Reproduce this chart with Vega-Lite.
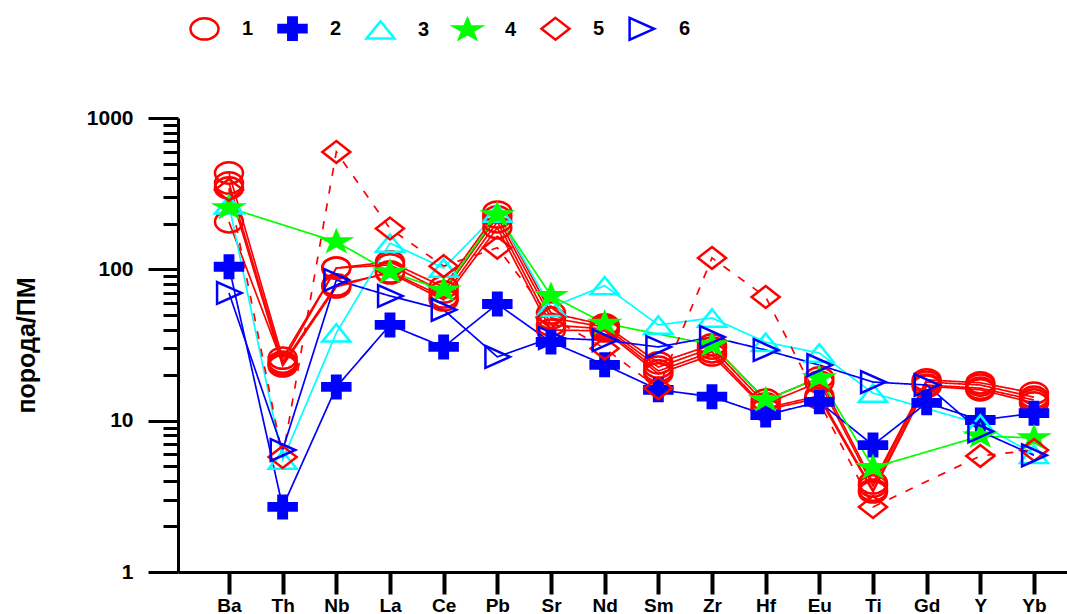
{
"$schema": "https://vega.github.io/schema/vega-lite/v6.json",
"width": 889, "height": 454,
"autosize": {"type": "none"},
"padding": {"left": 178, "top": 118, "right": 0, "bottom": 42},
"background": "white",
"config": {"view": {"stroke": null}, "font": "Liberation Sans"},
"data": {"values": [
{"s":"1a","g":"1","e":"Ba","v":433},{"s":"1a","g":"1","e":"Th","v":25.9},{"s":"1a","g":"1","e":"Nb","v":102},{"s":"1a","g":"1","e":"La","v":112},{"s":"1a","g":"1","e":"Ce","v":76.5},{"s":"1a","g":"1","e":"Pb","v":239},{"s":"1a","g":"1","e":"Sr","v":51.5},{"s":"1a","g":"1","e":"Nd","v":42.9},{"s":"1a","g":"1","e":"Sm","v":24.1},{"s":"1a","g":"1","e":"Zr","v":31.7},{"s":"1a","g":"1","e":"Hf","v":13.7},{"s":"1a","g":"1","e":"Eu","v":19.2},{"s":"1a","g":"1","e":"Ti","v":3.88},{"s":"1a","g":"1","e":"Gd","v":18.6},{"s":"1a","g":"1","e":"Y","v":17.8},{"s":"1a","g":"1","e":"Yb","v":15.2},
{"s":"1b","g":"1","e":"Ba","v":372},{"s":"1b","g":"1","e":"Th","v":24.4},{"s":"1b","g":"1","e":"Nb","v":102},{"s":"1b","g":"1","e":"La","v":107},{"s":"1b","g":"1","e":"Ce","v":70.9},{"s":"1b","g":"1","e":"Pb","v":222},{"s":"1b","g":"1","e":"Sr","v":47.7},{"s":"1b","g":"1","e":"Nd","v":41.6},{"s":"1b","g":"1","e":"Sm","v":22.6},{"s":"1b","g":"1","e":"Zr","v":30.2},{"s":"1b","g":"1","e":"Hf","v":12.9},{"s":"1b","g":"1","e":"Eu","v":18.0},{"s":"1b","g":"1","e":"Ti","v":3.70},{"s":"1b","g":"1","e":"Gd","v":18.0},{"s":"1b","g":"1","e":"Y","v":17.2},{"s":"1b","g":"1","e":"Yb","v":14.3},
{"s":"1c","g":"1","e":"Ba","v":345},{"s":"1c","g":"1","e":"Th","v":23.0},{"s":"1c","g":"1","e":"Nb","v":76.5},{"s":"1c","g":"1","e":"La","v":96.2},{"s":"1c","g":"1","e":"Ce","v":65.7},{"s":"1c","g":"1","e":"Pb","v":206},{"s":"1c","g":"1","e":"Sr","v":42.9},{"s":"1c","g":"1","e":"Nd","v":40.4},{"s":"1c","g":"1","e":"Sm","v":21.3},{"s":"1c","g":"1","e":"Zr","v":28.5},{"s":"1c","g":"1","e":"Hf","v":12.1},{"s":"1c","g":"1","e":"Eu","v":14.6},{"s":"1c","g":"1","e":"Ti","v":3.48},{"s":"1c","g":"1","e":"Gd","v":17.2},{"s":"1c","g":"1","e":"Y","v":16.4},{"s":"1c","g":"1","e":"Yb","v":13.7},
{"s":"1d","g":"1","e":"Ba","v":206},{"s":"1d","g":"1","e":"Th","v":23.7},{"s":"1d","g":"1","e":"Nb","v":78.9},{"s":"1d","g":"1","e":"La","v":94.6},{"s":"1d","g":"1","e":"Ce","v":62.8},{"s":"1d","g":"1","e":"Pb","v":188},{"s":"1d","g":"1","e":"Sr","v":39.7},{"s":"1d","g":"1","e":"Nd","v":39.2},{"s":"1d","g":"1","e":"Sm","v":20.4},{"s":"1d","g":"1","e":"Zr","v":27.2},{"s":"1d","g":"1","e":"Hf","v":11.8},{"s":"1d","g":"1","e":"Eu","v":14.1},{"s":"1d","g":"1","e":"Ti","v":3.38},{"s":"1d","g":"1","e":"Gd","v":16.9},{"s":"1d","g":"1","e":"Y","v":16.0},{"s":"1d","g":"1","e":"Yb","v":13.1},
{"s":"2","g":"2","e":"Ba","v":104},{"s":"2","g":"2","e":"Th","v":2.69},{"s":"2","g":"2","e":"Nb","v":16.7},{"s":"2","g":"2","e":"La","v":42.9},{"s":"2","g":"2","e":"Ce","v":30.7},{"s":"2","g":"2","e":"Pb","v":59},{"s":"2","g":"2","e":"Sr","v":33.1},{"s":"2","g":"2","e":"Nd","v":23.4},{"s":"2","g":"2","e":"Sm","v":16},{"s":"2","g":"2","e":"Zr","v":14.4},{"s":"2","g":"2","e":"Hf","v":10.9},{"s":"2","g":"2","e":"Eu","v":13.3},{"s":"2","g":"2","e":"Ti","v":6.9},{"s":"2","g":"2","e":"Gd","v":13.1},{"s":"2","g":"2","e":"Y","v":10.1},{"s":"2","g":"2","e":"Yb","v":11.2},
{"s":"3","g":"3","e":"Ba","v":267},{"s":"3","g":"3","e":"Th","v":5.5},{"s":"3","g":"3","e":"Nb","v":38},{"s":"3","g":"3","e":"La","v":149},{"s":"3","g":"3","e":"Ce","v":102},{"s":"3","g":"3","e":"Pb","v":235},{"s":"3","g":"3","e":"Sr","v":56},{"s":"3","g":"3","e":"Nd","v":78},{"s":"3","g":"3","e":"Sm","v":42.9},{"s":"3","g":"3","e":"Zr","v":47.7},{"s":"3","g":"3","e":"Hf","v":33},{"s":"3","g":"3","e":"Eu","v":28},{"s":"3","g":"3","e":"Ti","v":15.2},{"s":"3","g":"3","e":"Y","v":9.5},{"s":"3","g":"3","e":"Yb","v":6.0},
{"s":"4","g":"4","e":"Ba","v":255},{"s":"4","g":"4","e":"Nb","v":152},{"s":"4","g":"4","e":"La","v":96},{"s":"4","g":"4","e":"Ce","v":73},{"s":"4","g":"4","e":"Pb","v":229},{"s":"4","g":"4","e":"Sr","v":67},{"s":"4","g":"4","e":"Nd","v":44},{"s":"4","g":"4","e":"Zr","v":31.7},{"s":"4","g":"4","e":"Hf","v":13.7},{"s":"4","g":"4","e":"Eu","v":19.2},{"s":"4","g":"4","e":"Ti","v":4.9},{"s":"4","g":"4","e":"Y","v":7.9},{"s":"4","g":"4","e":"Yb","v":7.7},
{"s":"5","g":"5","e":"Ba","v":335},{"s":"5","g":"5","e":"Th","v":5.75},{"s":"5","g":"5","e":"Nb","v":597},{"s":"5","g":"5","e":"La","v":186},{"s":"5","g":"5","e":"Ce","v":105},{"s":"5","g":"5","e":"Pb","v":139},{"s":"5","g":"5","e":"Sr","v":48},{"s":"5","g":"5","e":"Nd","v":30},{"s":"5","g":"5","e":"Sm","v":16.4},{"s":"5","g":"5","e":"Zr","v":119},{"s":"5","g":"5","e":"Hf","v":65.7},{"s":"5","g":"5","e":"Ti","v":2.69},{"s":"5","g":"5","e":"Y","v":5.85},{"s":"5","g":"5","e":"Yb","v":6.4},
{"s":"6","g":"6","e":"Ba","v":69.8},{"s":"6","g":"6","e":"Th","v":6.4},{"s":"6","g":"6","e":"Nb","v":85},{"s":"6","g":"6","e":"La","v":66.7},{"s":"6","g":"6","e":"Ce","v":54},{"s":"6","g":"6","e":"Pb","v":26.4},{"s":"6","g":"6","e":"Sr","v":35.2},{"s":"6","g":"6","e":"Nd","v":34},{"s":"6","g":"6","e":"Sm","v":30.7},{"s":"6","g":"6","e":"Zr","v":35.7},{"s":"6","g":"6","e":"Hf","v":29.3},{"s":"6","g":"6","e":"Eu","v":23.3},{"s":"6","g":"6","e":"Ti","v":18},{"s":"6","g":"6","e":"Gd","v":17.2},{"s":"6","g":"6","e":"Y","v":8.5},{"s":"6","g":"6","e":"Yb","v":5.9}
]},
"encoding": {
  "x": {"field": "e", "type": "ordinal",
    "sort": ["Ba","Th","Nb","La","Ce","Pb","Sr","Nd","Sm","Zr","Hf","Eu","Ti","Gd","Y","Yb"],
    "scale": {"padding": 0.7825, "align": 0.607},
    "axis": {"title": null, "domainColor": "black", "domainWidth": 3, "tickColor": "black", "tickWidth": 4, "tickSize": 22,
      "labelFont": "Liberation Sans", "labelFontWeight": "bold", "labelFontSize": 19, "labelColor": "black", "labelPadding": 2, "labelAngle": 0, "grid": false}},
  "y": {"field": "v", "type": "quantitative",
    "scale": {"type": "log", "domain": [1, 1000], "nice": false},
    "axis": {"values": [1,2,3,4,5,6,7,8,9,10,20,30,40,50,60,70,80,90,100,200,300,400,500,600,700,800,900,1000],
      "labelExpr": "datum.value == 1 || datum.value == 10 || datum.value == 100 || datum.value == 1000 ? format(datum.value, 'd') : ''",
      "tickSize": {"condition": {"test": "datum.value == 1 || datum.value == 10 || datum.value == 100 || datum.value == 1000", "value": 30}, "value": 15},
      "tickWidth": 3, "tickColor": "black", "domainColor": "black", "domainWidth": 3,
      "labelFont": "Liberation Sans", "labelFontWeight": "bold", "labelFontSize": 21, "labelColor": "black", "labelPadding": 15,
      "labelOverlap": false, "labelBound": false, "labelFlush": false, "grid": false,
      "title": "порода/ПМ", "titleFont": "Liberation Sans", "titleFontSize": 25, "titleFontWeight": "bold", "titleColor": "black", "titlePadding": 47}}
},
"layer": [
  {"mark": {"type": "line"},
   "encoding": {
     "color": {"field": "s", "type": "nominal", "scale": {"domain": ["1a","1b","1c","1d","2","3","4","5","6"], "range": ["#ff0000","#ff0000","#ff0000","#ff0000","#0000ff","#00ffff","#00ff00","#ff0000","#0000ff"]}, "legend": null},
     "strokeDash": {"field": "s", "type": "nominal", "scale": {"domain": ["1a","1b","1c","1d","2","3","4","5","6"], "range": [[1,0],[1,0],[1,0],[1,0],[1,0],[1,0],[1,0],[8,10],[1,0]]}, "legend": null},
     "strokeWidth": {"field": "s", "type": "nominal", "scale": {"domain": ["1a","1b","1c","1d","2","3","4","5","6"], "range": [1.7,1.7,1.7,1.7,1.6,1.4,1.3,1.6,1.6]}, "legend": null},
     "order": {"value": null}
   }},
  {"mark": {"type": "point", "strokeWidth": 2.5, "opacity": 1, "size": 784},
   "encoding": {
     "shape": {"field": "g", "type": "nominal", "title": null,
       "scale": {"domain": ["1","2","3","4","5","6"], "range": [
         "M-1,0A1,0.76 0 1,1 1,0A1,0.76 0 1,1 -1,0Z",
         "M-1,-0.26H-0.3V-0.8H0.3V-0.26H1V0.26H0.3V0.8H-0.3V0.26H-1Z",
         "M0,-0.62L1,0.62L-1,0.62Z",
         "M0,-0.78L0.225,-0.24L0.951,-0.24L0.363,0.09L0.588,0.63L0,0.3L-0.588,0.63L-0.363,0.09L-0.951,-0.24L-0.225,-0.24Z",
         "M0,-0.78L1,0L0,0.78L-1,0Z",
         "M-0.85,-0.78L0.9,0L-0.85,0.78Z"]},
       "legend": {"orient": "none", "legendX": 11, "legendY": -105, "direction": "horizontal", "symbolSize": 784, "symbolStrokeWidth": 2.5, "labelFont": "Liberation Sans", "labelFontWeight": "bold", "labelFontSize": 20, "labelColor": "black", "labelOffset": 22, "columnPadding": 19}},
     "stroke": {"field": "g", "type": "nominal", "title": null,
       "scale": {"domain": ["1","2","3","4","5","6"], "range": ["#ff0000","#0000ff","#00ffff","#00ff00","#ff0000","#0000ff"]},
       "legend": {"orient": "none", "legendX": 11, "legendY": -105, "direction": "horizontal", "symbolSize": 784, "symbolStrokeWidth": 2.5, "labelFont": "Liberation Sans", "labelFontWeight": "bold", "labelFontSize": 20, "labelColor": "black", "labelOffset": 22, "columnPadding": 19}},
     "fill": {"field": "g", "type": "nominal", "title": null,
       "scale": {"domain": ["1","2","3","4","5","6"], "range": ["transparent","#0000ff","transparent","#00ff00","transparent","transparent"]},
       "legend": {"orient": "none", "legendX": 11, "legendY": -105, "direction": "horizontal", "symbolSize": 784, "symbolStrokeWidth": 2.5, "labelFont": "Liberation Sans", "labelFontWeight": "bold", "labelFontSize": 20, "labelColor": "black", "labelOffset": 22, "columnPadding": 19}}
   }}
]
}
